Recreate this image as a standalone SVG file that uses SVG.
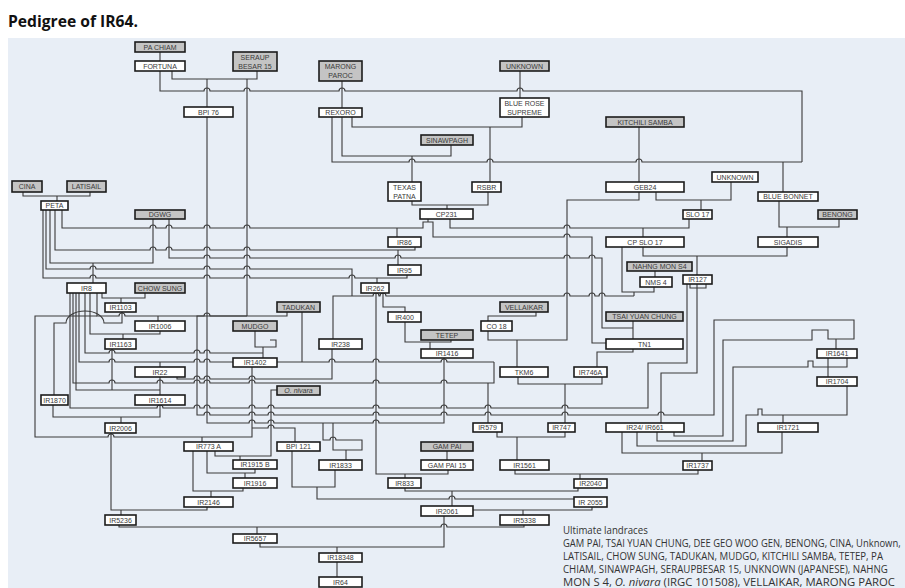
<svg xmlns="http://www.w3.org/2000/svg" width="905" height="588" viewBox="0 0 905 588">
<style>
.n rect{fill:#fff;stroke:#1c1c1c;stroke-width:1.6}
.g rect{fill:#c4c4c4}
.n text{font-family:"Liberation Sans",Arial,sans-serif;font-size:7px;fill:#3a3a3a;text-anchor:middle}
#connectors path{fill:none;stroke:#3a3a3a;stroke-width:1.1}
.lg{font-family:"Open Sans","Noto Sans",sans-serif;font-size:10.5px;fill:#333}
</style>
<rect x="0" y="0" width="905" height="588" fill="#fff"/>
<rect x="8" y="38" width="897" height="550" fill="#e8eef6"/>
<text x="8" y="27" font-family="'Open Sans','Noto Sans',sans-serif" font-weight="bold" font-size="16" textLength="130" lengthAdjust="spacingAndGlyphs" fill="#111">Pedigree of IR64.</text>
<g id="connectors">
<path d="M160 52V61"/>
<path d="M160 71V91H204a3 3 0 0 1 6 0H244a3 3 0 0 1 6 0H339a3 3 0 0 1 6 0H517a3 3 0 0 1 6 0H802V162"/>
<path d="M172 71V79H257V71"/>
<path d="M207 79V107"/>
<path d="M247 79V316"/>
<path d="M342 81V108"/>
<path d="M520 71V98"/>
<path d="M352 117V127H522V117"/>
<path d="M490 127V182"/>
<path d="M342 117V156H451V145"/>
<path d="M412 156V182"/>
<path d="M332 117V162H409a3 3 0 0 1 6 0H487a3 3 0 0 1 6 0H636a3 3 0 0 1 6 0H802"/>
<path d="M783 162V192"/>
<path d="M639 127V182"/>
<path d="M412 201V205H488V192M447 205V209"/>
<path d="M639 192V200H567V340H488V331"/>
<path d="M656 192V200H731V182M701 200V210"/>
<path d="M450 219V228H564a3 3 0 0 1 6 0H689V219M643 228V237"/>
<path d="M779 201V227H839V219M787 227V237"/>
<path d="M643 247V256H787V247M697 256V275"/>
<path d="M655 271V277"/>
<path d="M622 247V292H654V287M634 292V296"/>
<path d="M23 192V196H90V192M57 196V201"/>
<path d="M62 210V228H150a3 3 0 0 1 6 0H166a3 3 0 0 1 6 0H204a3 3 0 0 1 6 0H244a3 3 0 0 1 6 0H423V222H433V237H564a3 3 0 0 1 6 0H592V343H606M428 219V222M397 228V237"/>
<path d="M55 210V250H150a3 3 0 0 1 6 0H166a3 3 0 0 1 6 0H204a3 3 0 0 1 6 0H244a3 3 0 0 1 6 0H415V247M398 250V265"/>
<path d="M169 219V258H204a3 3 0 0 1 6 0H244a3 3 0 0 1 6 0H395a3 3 0 0 1 6 0H564a3 3 0 0 1 6 0H589a3 3 0 0 1 6 0H602V328H633M633 321V339"/>
<path d="M50 210V263H153V219M93 263V283"/>
<path d="M46 210V269H90a3 3 0 0 1 6 0H204a3 3 0 0 1 6 0H244a3 3 0 0 1 6 0H352V296"/>
<path d="M43 210V278H90a3 3 0 0 1 6 0H204a3 3 0 0 1 6 0H244a3 3 0 0 1 6 0H349a3 3 0 0 1 6 0H407V275M377 278V283"/>
<path d="M333 339V296H373a3 3 0 0 1 6 0H380a3 3 0 0 1 6 0H564a3 3 0 0 1 6 0H589a3 3 0 0 1 6 0H599a3 3 0 0 1 6 0H634"/>
<path d="M383 293V307H405V312"/>
<path d="M405 322V342H451V340M430 342V349"/>
<path d="M536 312V316H488V321"/>
<path d="M517 340V367"/>
<path d="M633 349V352H597V367"/>
<path d="M518 377V384H602V377M565 384V423"/>
<path d="M697 284V373H661V423M690 284V288H706V284"/>
<path d="M70 293V408H157a3 3 0 0 1 6 0H194a3 3 0 0 1 6 0H204a3 3 0 0 1 6 0H249a3 3 0 0 1 6 0H268a3 3 0 0 1 6 0H373a3 3 0 0 1 6 0H441a3 3 0 0 1 6 0H485a3 3 0 0 1 6 0H562a3 3 0 0 1 6 0H648V363H687V284"/>
<path d="M287 312V316H197V415H204a3 3 0 0 1 6 0H249a3 3 0 0 1 6 0H268a3 3 0 0 1 6 0H373a3 3 0 0 1 6 0H441a3 3 0 0 1 6 0H485a3 3 0 0 1 6 0H562a3 3 0 0 1 6 0H658a3 3 0 0 1 6 0H714V320H854V339H828V330H812V340H723V436H674V432M836 339V349"/>
<path d="M73 293V383H109a3 3 0 0 1 6 0H157a3 3 0 0 1 6 0H194a3 3 0 0 1 6 0H204a3 3 0 0 1 6 0H249a3 3 0 0 1 6 0H373a3 3 0 0 1 6 0H441a3 3 0 0 1 6 0H494V362"/>
<path d="M79 293V362H109a3 3 0 0 1 6 0H194a3 3 0 0 1 6 0H204a3 3 0 0 1 6 0H329a3 3 0 0 1 6 0H373a3 3 0 0 1 6 0H441a3 3 0 0 1 6 0H494M160 362V367M302 312V362"/>
<path d="M85 293V353H109a3 3 0 0 1 6 0H194a3 3 0 0 1 6 0H204a3 3 0 0 1 6 0H263"/>
<path d="M255 331V347H276V340H270M263 347V358"/>
<path d="M90 293V334H160V331M123 334V339"/>
<path d="M97 293V316H119a3 3 0 0 1 6 0H204a3 3 0 0 1 6 0H247M158 316V321"/>
<path d="M97 316H35V437H108a3 3 0 0 1 6 0H252V367M202 437V442"/>
<path d="M102 293V298H145V293M121 298V303"/>
<path d="M122 312V323H104A19 12 0 0 0 66 323H54V395"/>
<path d="M112 349V390M76 293V390H160M160 377V395"/>
<path d="M53 405V417H160V405M121 417V423"/>
<path d="M277 390H271V456H215V451M240 456V460"/>
<path d="M177 377V379H194a3 3 0 0 1 6 0H204a3 3 0 0 1 6 0H249a3 3 0 0 1 6 0H332V349"/>
<path d="M207 117V423H249a3 3 0 0 1 6 0H268a3 3 0 0 1 6 0H373a3 3 0 0 1 6 0H444V358"/>
<path d="M252 428H268a3 3 0 0 1 6 0H295V442"/>
<path d="M323 423V440H330a3 3 0 0 1 6 0H362V450H333V423M346 450V460"/>
<path d="M292 451V487H335V470M317 487V499H449a3 3 0 0 1 6 0H574"/>
<path d="M405 488V491H578V488M452 491V506"/>
<path d="M592 507V510H473M523 510V515"/>
<path d="M376 293V474H448V470M405 474V478"/>
<path d="M447 451V460"/>
<path d="M497 432V437H565V432M517 437V460"/>
<path d="M515 470V474H698V470M580 474V479"/>
<path d="M488 383V423"/>
<path d="M207 451V473H255V469M245 473V478"/>
<path d="M193 451V491H243V488M211 491V497"/>
<path d="M111 433V510H207V507M121 510V515"/>
<path d="M119 525V527H441a3 3 0 0 1 6 0H524V525M257 527V534"/>
<path d="M260 543V547H444V516M337 547V553"/>
<path d="M337 562V577"/>
<path d="M657 432V441H733V367H808V361H813V367H847V358M828 358V377"/>
<path d="M637 432V446H746V415H758V409H762V415H847V386M783 415V423"/>
<path d="M622 432V453H782V432M702 453V461"/>
</g>
<g id="n-pachiam" class="n g"><rect x="135" y="42" width="50" height="10"/><text x="160" y="49.5">PA CHIAM</text></g>
<g id="n-fortuna" class="n"><rect x="135" y="61" width="50" height="10"/><text x="160" y="68.5">FORTUNA</text></g>
<g id="n-seraup" class="n g"><rect x="233" y="52" width="44" height="19"/><text x="255" y="59.5">SERAUP</text><text x="255" y="68.5">BESAR 15</text></g>
<g id="n-marong" class="n g"><rect x="319" y="61" width="43" height="20"/><text x="340.5" y="69">MARONG</text><text x="340.5" y="78">PAROC</text></g>
<g id="n-unknown1" class="n g"><rect x="500" y="61" width="49" height="10"/><text x="524.5" y="68.5">UNKNOWN</text></g>
<g id="n-bpi76" class="n"><rect x="184" y="107" width="49" height="10"/><text x="208.5" y="114.5">BPI 76</text></g>
<g id="n-rexoro" class="n"><rect x="319" y="108" width="43" height="9"/><text x="340.5" y="115">REXORO</text></g>
<g id="n-bluerose" class="n"><rect x="500" y="98" width="49" height="19"/><text x="524.5" y="105.5">BLUE ROSE</text><text x="524.5" y="114.5">SUPREME</text></g>
<g id="n-kitchili" class="n g"><rect x="606" y="117" width="78" height="10"/><text x="645" y="124.5">KITCHILI SAMBA</text></g>
<g id="n-sinawpagh" class="n g"><rect x="421" y="135" width="52" height="10"/><text x="447" y="142.5">SINAWPAGH</text></g>
<g id="n-texas" class="n"><rect x="388" y="182" width="33" height="19"/><text x="404.5" y="189.5">TEXAS</text><text x="404.5" y="198.5">PATNA</text></g>
<g id="n-rsbr" class="n"><rect x="472" y="182" width="29" height="10"/><text x="486.5" y="189.5">RSBR</text></g>
<g id="n-unknown2" class="n"><rect x="712" y="172" width="46" height="10"/><text x="735" y="179.5">UNKNOWN</text></g>
<g id="n-geb24" class="n"><rect x="606" y="182" width="78" height="10"/><text x="645" y="189.5">GEB24</text></g>
<g id="n-bluebonnet" class="n"><rect x="758" y="192" width="60" height="9"/><text x="788" y="199">BLUE BONNET</text></g>
<g id="n-cina" class="n g"><rect x="12" y="181" width="30" height="11"/><text x="27" y="189">CINA</text></g>
<g id="n-latisail" class="n g"><rect x="67" y="181" width="39" height="11"/><text x="86.5" y="189">LATISAIL</text></g>
<g id="n-peta" class="n"><rect x="41" y="201" width="27" height="9"/><text x="54.5" y="208">PETA</text></g>
<g id="n-cp231" class="n"><rect x="420" y="209" width="53" height="10"/><text x="446.5" y="216.5">CP231</text></g>
<g id="n-slo17" class="n"><rect x="683" y="210" width="29" height="9"/><text x="697.5" y="217">SLO 17</text></g>
<g id="n-benong" class="n g"><rect x="818" y="210" width="39" height="9"/><text x="837.5" y="217">BENONG</text></g>
<g id="n-dgwg" class="n g"><rect x="135" y="210" width="50" height="9"/><text x="160" y="217">DGWG</text></g>
<g id="n-ir86" class="n"><rect x="388" y="237" width="33" height="10"/><text x="404.5" y="244.5">IR86</text></g>
<g id="n-cpslo17" class="n"><rect x="606" y="237" width="78" height="10"/><text x="645" y="244.5">CP SLO 17</text></g>
<g id="n-sigadis" class="n"><rect x="758" y="237" width="60" height="10"/><text x="788" y="244.5">SIGADIS</text></g>
<g id="n-nahng" class="n g"><rect x="627" y="262" width="65" height="9"/><text x="659.5" y="269">NAHNG MON S4</text></g>
<g id="n-ir95" class="n"><rect x="388" y="265" width="33" height="10"/><text x="404.5" y="272.5">IR95</text></g>
<g id="n-nms4" class="n"><rect x="640" y="277" width="32" height="10"/><text x="656" y="284.5">NMS 4</text></g>
<g id="n-ir127" class="n"><rect x="683" y="275" width="29" height="9"/><text x="697.5" y="282">IR127</text></g>
<g id="n-ir8" class="n"><rect x="67" y="283" width="39" height="10"/><text x="86.5" y="290.5">IR8</text></g>
<g id="n-chowsung" class="n g"><rect x="135" y="283" width="50" height="10"/><text x="160" y="290.5">CHOW SUNG</text></g>
<g id="n-ir262" class="n"><rect x="361" y="283" width="28" height="10"/><text x="375" y="290.5">IR262</text></g>
<g id="n-ir1103" class="n"><rect x="105" y="303" width="31" height="9"/><text x="120.5" y="310">IR1103</text></g>
<g id="n-tadukan" class="n g"><rect x="277" y="302" width="43" height="10"/><text x="298.5" y="309.5">TADUKAN</text></g>
<g id="n-vellaikar" class="n g"><rect x="500" y="302" width="48" height="10"/><text x="524" y="309.5">VELLAIKAR</text></g>
<g id="n-ir400" class="n"><rect x="388" y="312" width="33" height="10"/><text x="404.5" y="319.5">IR400</text></g>
<g id="n-tsai" class="n g"><rect x="606" y="312" width="77" height="9"/><text x="644.5" y="319">TSAI YUAN CHUNG</text></g>
<g id="n-ir1006" class="n"><rect x="135" y="321" width="50" height="10"/><text x="160" y="328.5">IR1006</text></g>
<g id="n-mudgo" class="n g"><rect x="233" y="321" width="44" height="10"/><text x="255" y="328.5">MUDGO</text></g>
<g id="n-co18" class="n"><rect x="481" y="321" width="31" height="10"/><text x="496.5" y="328.5">CO 18</text></g>
<g id="n-tetep" class="n g"><rect x="421" y="330" width="52" height="10"/><text x="447" y="337.5">TETEP</text></g>
<g id="n-ir1163" class="n"><rect x="105" y="339" width="31" height="10"/><text x="120.5" y="346.5">IR1163</text></g>
<g id="n-ir238" class="n"><rect x="319" y="339" width="43" height="10"/><text x="340.5" y="346.5">IR238</text></g>
<g id="n-tn1" class="n"><rect x="606" y="339" width="77" height="10"/><text x="644.5" y="346.5">TN1</text></g>
<g id="n-ir1641" class="n"><rect x="817" y="349" width="40" height="9"/><text x="837" y="356">IR1641</text></g>
<g id="n-ir1416" class="n"><rect x="421" y="349" width="52" height="9"/><text x="447" y="356">IR1416</text></g>
<g id="n-ir1402" class="n"><rect x="233" y="358" width="44" height="9"/><text x="255" y="365">IR1402</text></g>
<g id="n-ir22" class="n"><rect x="135" y="367" width="50" height="10"/><text x="160" y="374.5">IR22</text></g>
<g id="n-tkm6" class="n"><rect x="500" y="367" width="48" height="10"/><text x="524" y="374.5">TKM6</text></g>
<g id="n-ir746a" class="n"><rect x="574" y="367" width="33" height="10"/><text x="590.5" y="374.5">IR746A</text></g>
<g id="n-ir1704" class="n"><rect x="817" y="377" width="40" height="9"/><text x="837" y="384">IR1704</text></g>
<g id="n-onivara" class="n g"><rect x="277" y="386" width="43" height="9"/><text x="298.5" y="393" font-style="italic">O. nivara</text></g>
<g id="n-ir1870" class="n"><rect x="41" y="395" width="27" height="10"/><text x="54.5" y="402.5">IR1870</text></g>
<g id="n-ir1614" class="n"><rect x="135" y="395" width="50" height="10"/><text x="160" y="402.5">IR1614</text></g>
<g id="n-ir2006" class="n"><rect x="105" y="423" width="31" height="10"/><text x="120.5" y="430.5">IR2006</text></g>
<g id="n-ir579" class="n"><rect x="473" y="423" width="29" height="9"/><text x="487.5" y="430">IR579</text></g>
<g id="n-ir747" class="n"><rect x="548" y="423" width="27" height="9"/><text x="561.5" y="430">IR747</text></g>
<g id="n-ir24" class="n"><rect x="606" y="423" width="78" height="9"/><text x="645" y="430">IR24/ IR661</text></g>
<g id="n-ir1721" class="n"><rect x="758" y="423" width="60" height="9"/><text x="788" y="430">IR1721</text></g>
<g id="n-ir773a" class="n"><rect x="184" y="442" width="49" height="9"/><text x="208.5" y="449">IR773 A</text></g>
<g id="n-bpi121" class="n"><rect x="277" y="442" width="43" height="9"/><text x="298.5" y="449">BPI 121</text></g>
<g id="n-gampai" class="n g"><rect x="421" y="442" width="52" height="9"/><text x="447" y="449">GAM PAI</text></g>
<g id="n-ir1915b" class="n"><rect x="233" y="460" width="44" height="9"/><text x="255" y="467">IR1915 B</text></g>
<g id="n-ir1833" class="n"><rect x="319" y="460" width="43" height="10"/><text x="340.5" y="467.5">IR1833</text></g>
<g id="n-gampai15" class="n"><rect x="421" y="460" width="52" height="10"/><text x="447" y="467.5">GAM PAI 15</text></g>
<g id="n-ir1561" class="n"><rect x="500" y="460" width="49" height="10"/><text x="524.5" y="467.5">IR1561</text></g>
<g id="n-ir1737" class="n"><rect x="683" y="461" width="29" height="9"/><text x="697.5" y="468">IR1737</text></g>
<g id="n-ir1916" class="n"><rect x="233" y="478" width="44" height="10"/><text x="255" y="485.5">IR1916</text></g>
<g id="n-ir833" class="n"><rect x="388" y="478" width="33" height="10"/><text x="404.5" y="485.5">IR833</text></g>
<g id="n-ir2040" class="n"><rect x="574" y="479" width="33" height="9"/><text x="590.5" y="486">IR2040</text></g>
<g id="n-ir2146" class="n"><rect x="184" y="497" width="49" height="10"/><text x="208.5" y="504.5">IR2146</text></g>
<g id="n-ir2055" class="n"><rect x="574" y="497" width="33" height="10"/><text x="590.5" y="504.5">IR 2055</text></g>
<g id="n-ir2061" class="n"><rect x="421" y="506" width="52" height="10"/><text x="447" y="513.5">IR2061</text></g>
<g id="n-ir5236" class="n"><rect x="105" y="515" width="31" height="10"/><text x="120.5" y="522.5">IR5236</text></g>
<g id="n-ir5338" class="n"><rect x="500" y="515" width="49" height="10"/><text x="524.5" y="522.5">IR5338</text></g>
<g id="n-ir5657" class="n"><rect x="233" y="534" width="44" height="9"/><text x="255" y="541">IR5657</text></g>
<g id="n-ir18348" class="n"><rect x="319" y="553" width="43" height="9"/><text x="340.5" y="560">IR18348</text></g>
<g id="n-ir64" class="n"><rect x="319" y="577" width="43" height="10"/><text x="340.5" y="584.5">IR64</text></g>
<g id="legend" transform="translate(563 0) scale(0.8 1)">
<text class="lg" x="0" y="534.5" textLength="106" lengthAdjust="spacingAndGlyphs">Ultimate landraces</text>
<text class="lg" x="0" y="547.5" textLength="422" lengthAdjust="spacingAndGlyphs">GAM PAI, TSAI YUAN CHUNG, DEE GEO WOO GEN, BENONG, CINA, Unknown,</text>
<text class="lg" x="0" y="560.5" textLength="400" lengthAdjust="spacingAndGlyphs">LATISAIL, CHOW SUNG, TADUKAN, MUDGO, KITCHILI SAMBA, TETEP, PA</text>
<text class="lg" x="0" y="573.5" textLength="406" lengthAdjust="spacingAndGlyphs">CHIAM, SINAWPAGH, SERAUPBESAR 15, UNKNOWN (JAPANESE), NAHNG</text>
<text class="lg" x="0" y="586.5" textLength="415" lengthAdjust="spacingAndGlyphs">MON S 4, <tspan font-style="italic">O. nivara</tspan> (IRGC 101508), VELLAIKAR, MARONG PAROC</text>
</g>
</svg>
